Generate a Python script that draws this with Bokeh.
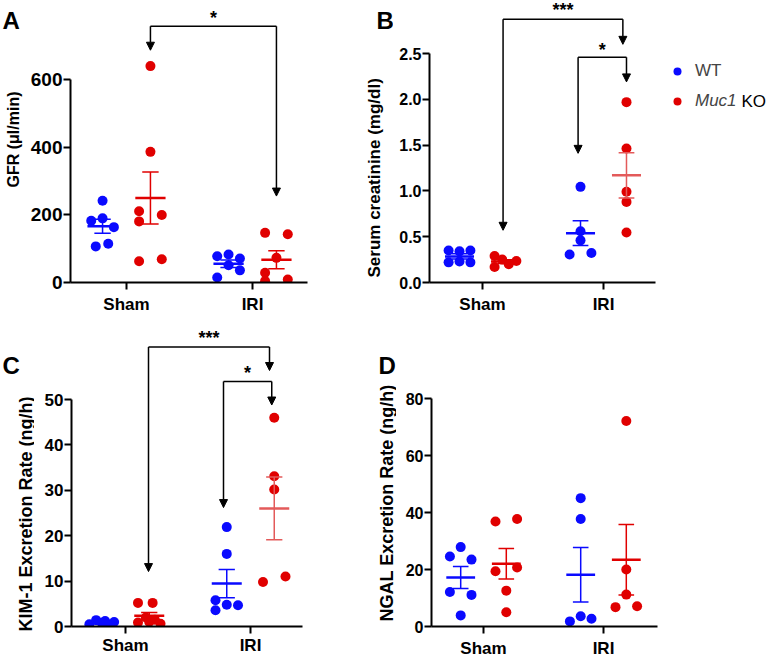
import numpy as np
from bokeh.plotting import figure
from bokeh.models import (Range1d, FixedTicker, Label, Arrow, NormalHead, Legend,
                          LegendItem, NumeralTickFormatter)
from bokeh.layouts import row, column
from bokeh.embed import file_html
from bokeh.resources import INLINE
from bokeh.core.properties import value

# ---------------- data ----------------
groups = ["Sham", "IRI"]
series = ["WT", "Muc1 KO"]

# Panel A: GFR (µl/min)
gfr_wt_sham = [242, 183, 190, 164, 115, 107]
gfr_wt_sham_col = [0, -1, 0, 1, 0.5, -0.6]
gfr_ko_sham = [641, 387, 211, 181, 200, 63, 69]
gfr_ko_sham_col = [0, 0, -1, -1, 1, -1, 1]
gfr_wt_iri = [78, 83, 71, 51, 36, 15]
gfr_wt_iri_col = [-1, 0, 1, 0, 1, -1]
gfr_ko_iri = [147, 143, 73, 29, 4, 9]
gfr_ko_iri_col = [-1, 1, 0, -1, -1, 1]
gfr_ticks = [0, 200, 400, 600]

# Panel B: serum creatinine (mg/dl)
cre_wt_sham = [0.35, 0.34, 0.35, 0.22, 0.23, 0.22]
cre_wt_sham_col = [-1, 0, 1, -1, 0, 1]
cre_ko_sham = [0.29, 0.17, 0.25, 0.20, 0.235]
cre_ko_sham_col = [-1, -1, -0.3, 0.3, 1]
cre_wt_iri = [1.044, 0.56, 0.46, 0.306, 0.323]
cre_wt_iri_col = [0, 0, 0, -1, 1]
cre_ko_iri = [1.969, 1.463, 0.99, 0.88, 0.546]
cre_ko_iri_col = [0, 0, 0, 0, 0]
cre_ticks = [0.0, 0.5, 1.0, 1.5, 2.0, 2.5]

# Panel C: KIM-1 excretion rate (ng/h)
kim_wt_sham = [0.5, 1.4, 1.2, 1.0, 0.2, 0.8]
kim_wt_sham_col = [-1.1, -0.5, 0.3, 1.1, 0.7, 0]
kim_ko_sham = [5.2, 5.2, 0.9, 1.0, 0.6, 2.0, 1.5]
kim_ko_sham_col = [-1, 0.3, -1, 0, 1, -0.3, 0.5]
kim_wt_iri = [21.9, 16.0, 5.8, 4.8, 4.7, 3.6]
kim_wt_iri_col = [0, 0, -1, 0, 1, -1]
kim_ko_iri = [46.0, 33.1, 30.2, 9.8, 11.0]
kim_ko_iri_col = [0, 0, 0, -1, 1]
kim_ticks = [0, 10, 20, 30, 40, 50]

# Panel D: NGAL excretion rate (ng/h)
ngal_wt_sham = [27.9, 24.6, 23.5, 12.1, 11.1, 3.9]
ngal_wt_sham_col = [0, -1, 1, -1, 1, 0]
ngal_ko_sham = [36.9, 37.8, 19.4, 20.7, 12.6, 5.0]
ngal_ko_sham_col = [-1, 1, -1, 1, 0, 0]
ngal_wt_iri = [45.1, 37.8, 3.6, 2.7, 1.8]
ngal_wt_iri_col = [0, 0, 0, 1, -1]
ngal_ko_iri = [72.2, 20.0, 11.2, 6.8, 7.1]
ngal_ko_iri_col = [0, 0, 0, -1, 1]
ngal_ticks = [0, 20, 40, 60, 80]

# ---------------- style ----------------
BLUE = "#0a0aff"
RED = "#e00000"
RED_LIGHT = "#e35a5a"
FONT = "Liberation Sans"
GROUP_OFF = 0.19
JIT = 0.09


def make_panel(g, width, height, mbl, mbr, mbb, ticks, yfmt, ytick_size, xstandoff, groups_data,
               light_ko_iri=False):
    p = figure(width=width, height=height,
               x_range=Range1d(g["x0"], g["x1"]), y_range=Range1d(0, g["yend"]),
               output_backend="svg", toolbar_location=None,
               min_border_left=mbl, min_border_right=mbr,
               min_border_top=0, min_border_bottom=mbb)
    p.outline_line_color = None
    p.grid.visible = False
    for ax in (p.xaxis[0], p.yaxis[0]):
        ax.axis_line_width = 2
        ax.axis_line_color = "black"
        ax.major_tick_line_width = 2
        ax.major_tick_line_color = "black"
        ax.major_tick_out = 7
        ax.major_tick_in = 0
        ax.minor_tick_line_color = None
        ax.major_label_text_font = FONT
        ax.major_label_text_font_style = "bold"
        ax.major_label_text_color = "black"
    p.xaxis.ticker = FixedTicker(ticks=[1, 2])
    p.xaxis.major_label_overrides = {1: groups[0], 2: groups[1]}
    p.xaxis.major_label_text_font_size = "17px"
    p.xaxis.major_label_standoff = xstandoff
    if "xbound" in g:
        p.xaxis.bounds = (g["x0"], g["xbound"])
    p.yaxis.ticker = FixedTicker(ticks=ticks)
    p.yaxis.bounds = (ticks[0], ticks[-1])
    p.yaxis.major_label_text_font_size = ytick_size
    p.yaxis.major_label_standoff = 1
    if yfmt:
        p.yaxis.formatter = NumeralTickFormatter(format=yfmt)

    renderers = {}
    for gi, (vals, cols, kind) in enumerate(groups_data):
        base = 1 + (gi // 2)
        off = -GROUP_OFF if kind == "WT" else GROUP_OFF
        color = BLUE if kind == "WT" else RED
        cx = base + off
        xs = [cx + c * JIT for c in cols]
        r = p.scatter(xs, vals, size=10, fill_color=color, line_color=None)
        renderers.setdefault(kind, r)
        bar_color = RED_LIGHT if (light_ko_iri and gi == 3) else color
        arr = np.array(vals, dtype=float)
        m = arr.mean()
        sem = arr.std(ddof=1) / np.sqrt(len(arr))
        p.segment(x0=[cx], y0=[m - sem], x1=[cx], y1=[m + sem], line_color=bar_color, line_width=1.5)
        p.segment(x0=[cx - 0.065, cx - 0.065], y0=[m - sem, m + sem],
                  x1=[cx + 0.065, cx + 0.065], y1=[m - sem, m + sem],
                  line_color=bar_color, line_width=1.5)
        p.segment(x0=[cx - 0.12], y0=[m], x1=[cx + 0.12], y1=[m], line_color=bar_color, line_width=2.5)
    return p, renderers


def bracket(p, xl, xr, yb, yl_end, yr_end, star, ystar):
    p.segment(x0=[xl], y0=[yb], x1=[xr], y1=[yb], line_color="black", line_width=1.5)
    for x, ye in ((xl, yl_end), (xr, yr_end)):
        p.add_layout(Arrow(x_start=x, y_start=yb, x_end=x, y_end=ye,
                           line_color="black", line_width=1.5,
                           end=NormalHead(size=8, fill_color="black", line_color="black", line_width=1)))
    p.text(x=[(xl + xr) / 2], y=[ystar], text=[star], text_align="center", text_baseline="middle",
           text_font=value(FONT), text_font_size="18px", text_font_style="bold", text_color="black")


def side_strip(w, h, letter, letter_xy, title, title_start, title_size):
    """Narrow strip left of a panel holding the panel letter and the y-axis title.
    Coordinates are pixels from the strip's top-left corner."""
    s = figure(frame_width=w, frame_height=h, x_range=Range1d(0, w), y_range=Range1d(0, h),
               output_backend="svg", toolbar_location=None, title=None,
               min_border_left=0, min_border_right=0, min_border_top=0, min_border_bottom=0,
               x_axis_type=None, y_axis_type=None)
    s.outline_line_color = None
    s.grid.visible = False
    s.text(x=[letter_xy[0]], y=[h - letter_xy[1]], text=[letter], text_align="left",
           text_baseline="alphabetic", text_font=value(FONT), text_font_size="24px",
           text_font_style="bold", text_color="black")
    # title reads bottom-to-top, starting at title_start
    s.text(x=[title_start[0]], y=[h - title_start[1]], text=[title], angle=np.pi / 2, text_align="left",
           text_baseline="alphabetic", text_font=value(FONT), text_font_size=title_size,
           text_font_style="bold", text_color="black")
    return s


# frame geometry of each panel (pixels) -> ranges
gA = dict(x0=1 - 56 / 126, x1=2 + 55 / 126, yend=284 / 0.34)
gB = dict(x0=1 - 53 / 121, x1=2 + 166 / 121, xbound=2 + 52 / 121, yend=282 / 91.6)
gC = dict(x0=1 - 54 / 125, x1=2 + 52 / 125, yend=314 / 4.627)
gD = dict(x0=1 - 52 / 120, x1=2 + 54 / 120, yend=308 / 2.846)

pA, rA = make_panel(gA, 334, 318, 46, 51, 34, gfr_ticks, None, "19px", 5, [
    (gfr_wt_sham, gfr_wt_sham_col, "WT"), (gfr_ko_sham, gfr_ko_sham_col, "KO"),
    (gfr_wt_iri, gfr_wt_iri_col, "WT"), (gfr_ko_iri, gfr_ko_iri_col, "KO")])
pB, rB = make_panel(gB, 376, 318, 36, 0, 36, cre_ticks, "0.0", "16px", 5, [
    (cre_wt_sham, cre_wt_sham_col, "WT"), (cre_ko_sham, cre_ko_sham_col, "KO"),
    (cre_wt_iri, cre_wt_iri_col, "WT"), (cre_ko_iri, cre_ko_iri_col, "KO")], light_ko_iri=True)
pC, rC = make_panel(gC, 324, 343, 37, 56, 29, kim_ticks, None, "17px", 2, [
    (kim_wt_sham, kim_wt_sham_col, "WT"), (kim_ko_sham, kim_ko_sham_col, "KO"),
    (kim_wt_iri, kim_wt_iri_col, "WT"), (kim_ko_iri, kim_ko_iri_col, "KO")], light_ko_iri=True)
pD, rD = make_panel(gD, 373, 343, 35, 112, 35, ngal_ticks, None, "16px", 5, [
    (ngal_wt_sham, ngal_wt_sham_col, "WT"), (ngal_ko_sham, ngal_ko_sham_col, "KO"),
    (ngal_wt_iri, ngal_wt_iri_col, "WT"), (ngal_ko_iri, ngal_ko_iri_col, "KO")])

# significance brackets
bracket(pA, 1.19, 2.19, 759, 688, 256, "*", 782)
bracket(pB, 1.17, 2.16, 2.875, 0.57, 2.6, "***", 2.97)
bracket(pB, 1.79, 2.19, 2.46, 1.41, 2.19, "*", 2.54)
bracket(pC, 1.184, 2.152, 61.6, 12.1, 56.4, "***", 63.5)
bracket(pC, 1.784, 2.17, 54.0, 26.2, 48.8, "*", 55.8)

# strips with panel letters and y-axis titles
sA = side_strip(24, 318, "A", (2, 20), "GFR (\u03bcl/min)", (13, 187), "16px")
sB = side_strip(35, 318, "B", (18, 20), "Serum creatinine  (mg/dl)", (16, 277), "17px")
sC = side_strip(34, 343, "C", (2, 47), "KIM-1 Excretion Rate (ng/h)", (25, 313), "18px")
sD = side_strip(38, 343, "D", (20, 47), "NGAL Excretion Rate (ng/h)", (28, 303), "18px")

# legend (inside panel B's extended frame, right of its x-axis)
common = dict(orientation="vertical", padding=0, margin=0, border_line_color=None,
              background_fill_alpha=0, glyph_width=20, glyph_height=20, label_height=20,
              label_standoff=8, label_text_font=FONT, label_text_font_size="17px")
leg_wt = Legend(items=[LegendItem(label=series[0], renderers=[rB["WT"]])],
                location=(238, 201), **common)
leg_ko = Legend(items=[LegendItem(label=series[1].split()[0], renderers=[rB["KO"]])],
                location=(238, 171), label_text_font_style="italic", **common)
pB.add_layout(leg_wt)
pB.add_layout(leg_ko)
ko_x = gB["x0"] + (741 - 429) / 121
ko_y = (282 - 101) / 91.6
pB.add_layout(Label(x=ko_x, y=ko_y, text=series[1].split()[1], text_align="left",
                    text_baseline="middle", text_font=FONT, text_font_size="17px",
                    text_color="black"))

layout = column(row(sA, pA, sB, pB), row(sC, pC, sD, pD))
open("out.html", "w").write(file_html(layout, INLINE))
